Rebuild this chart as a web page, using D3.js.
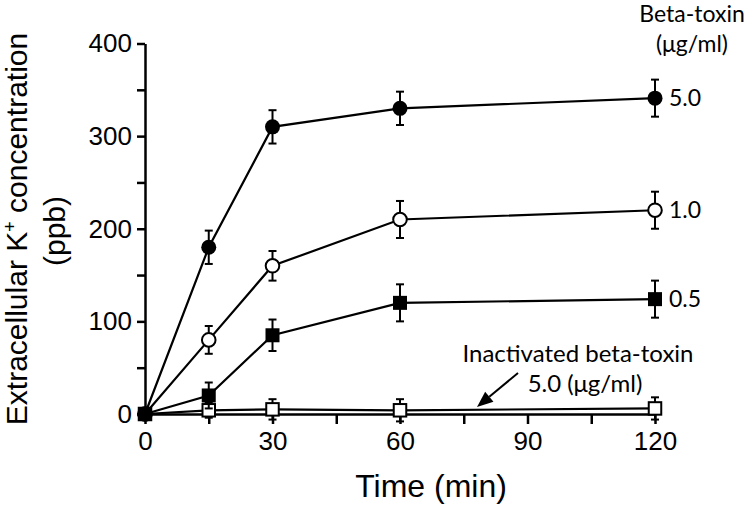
<!DOCTYPE html>
<html>
<head>
<meta charset="utf-8">
<script src="https://cdn.jsdelivr.net/npm/d3@7"></script>
<style>
  html, body { margin: 0; padding: 0; background: #fff; }
  svg { display: block; }
</style>
</head>
<body>
<script>
// ---- data ----
const times = [0, 15, 30, 60, 120];
const tox50 = [0, 180, 310, 330, 341];
const tox50Err = [0, 18, 18, 18, 20];
const tox10 = [0, 80, 160, 210, 220];
const tox10Err = [0, 15, 16, 20, 20];
const tox05 = [0, 20, 85, 120, 124];
const tox05Err = [0, 14, 17, 20, 20];
const inact = [0, 4, 5, 4, 6];
const inactErr = [0, 8, 11, 12, 12];
const seriesLabels = ["Inactivated", "0.5", "1.0", "5.0"];
const xTickValues = [0, 15, 30, 45, 60, 75, 90, 105, 120];
const yTickValues = [0, 50, 100, 150, 200, 250, 300, 350, 400];

const W = 750, H = 505;
const svg = d3.select("body").append("svg").attr("width", W).attr("height", H);

const x = d3.scaleLinear().domain([0, 120]).range([145, 655]);
const y = d3.scaleLinear().domain([0, 400]).range([414, 43.5]);

const series = [
  { name: seriesLabels[0], vals: inact, err: inactErr, shape: "square", fill: "#fff" },
  { name: seriesLabels[1], vals: tox05, err: tox05Err, shape: "square", fill: "#000" },
  { name: seriesLabels[2], vals: tox10, err: tox10Err, shape: "circle", fill: "#fff" },
  { name: seriesLabels[3], vals: tox50, err: tox50Err, shape: "circle", fill: "#000" }
];

// ---- axes ----
const axisFont = "'Liberation Sans', Arial, Helvetica, sans-serif";
const yAxis = svg.append("g").attr("transform", `translate(${x(0)},0)`)
  .call(d3.axisLeft(y).tickValues(yTickValues).tickSize(8).tickSizeOuter(0).tickPadding(5)
    .tickFormat(d => d % 100 === 0 ? d : ""));
const xAxis = svg.append("g").attr("transform", `translate(0,${y(0)})`)
  .call(d3.axisBottom(x).tickValues(xTickValues).tickSize(10).tickSizeOuter(0).tickPadding(8)
    .tickFormat(d => d % 30 === 0 ? d : ""));
[yAxis, xAxis].forEach(g => {
  g.selectAll("path.domain").attr("stroke", "#000").attr("stroke-width", 2.5);
  g.selectAll(".tick line").attr("stroke", "#000").attr("stroke-width", 2.5);
  g.selectAll(".tick text").attr("fill", "#000").style("font-family", axisFont).style("font-size", "26px");
});

// ---- lines, error bars, markers ----
const line = d3.line().x((d, i) => x(times[i])).y(d => y(d));
const cap = 4;
series.forEach(s => {
  const g = svg.append("g");
  g.append("path").attr("d", line(s.vals)).attr("fill", "none")
    .attr("stroke", "#000").attr("stroke-width", 2.2);
  s.vals.forEach((v, i) => {
    const e = s.err[i];
    if (!e) return;
    const cx = x(times[i]);
    g.append("line").attr("x1", cx).attr("x2", cx).attr("y1", y(v - e)).attr("y2", y(v + e))
      .attr("stroke", "#000").attr("stroke-width", 2);
    [v - e, v + e].forEach(w => {
      g.append("line").attr("x1", cx - cap).attr("x2", cx + cap).attr("y1", y(w)).attr("y2", y(w))
        .attr("stroke", "#000").attr("stroke-width", 2);
    });
  });
  s.vals.forEach((v, i) => {
    const cx = x(times[i]), cy = y(v);
    if (s.shape === "circle") {
      g.append("circle").attr("cx", cx).attr("cy", cy).attr("r", s.fill === "#000" ? 7.5 : 6.8)
        .attr("fill", s.fill).attr("stroke", "#000").attr("stroke-width", s.fill === "#000" ? 0 : 2);
    } else {
      const sz = s.fill === "#000" ? 14 : 12.5;
      g.append("rect").attr("x", cx - sz / 2).attr("y", cy - sz / 2).attr("width", sz).attr("height", sz)
        .attr("fill", s.fill).attr("stroke", "#000").attr("stroke-width", s.fill === "#000" ? 0 : 2);
    }
  });
});

// ---- axis titles ----
svg.append("text").attr("x", 431).attr("y", 497).attr("text-anchor", "middle")
  .style("font-family", axisFont).style("font-size", "32px").text("Time (min)");

const yt = svg.append("text").attr("transform", "translate(27,229) rotate(-90)")
  .attr("text-anchor", "middle").style("font-family", axisFont).style("font-size", "30px");
yt.append("tspan").text("Extracellular K");
yt.append("tspan").attr("dy", -11).style("font-size", "18px").text("+");
yt.append("tspan").attr("dy", 11).text(" concentration");
svg.append("text").attr("transform", "translate(65,231) rotate(-90)")
  .attr("text-anchor", "middle").style("font-family", axisFont).style("font-size", "30px").text("(ppb)");

// ---- annotations ----
const noteFont = "Lato, 'Open Sans', sans-serif";
const note = (tx, ty, str, anchor, fs) => svg.append("text").attr("x", tx).attr("y", ty)
  .attr("text-anchor", anchor || "start").style("font-family", noteFont).style("font-size", (fs || 23) + "px")
  .attr("fill", "#000").text(str);
note(692, 22, "Beta-toxin", "middle");
note(692, 52, "(\u03bcg/ml)", "middle");
series.slice(1).forEach(s => {
  note(669, y(s.vals[4]) + 8, s.name);
});
note(578, 362, "Inactivated beta-toxin", "middle", 24);
note(585, 392, "5.0 (\u03bcg/ml)", "middle", 24);

// arrow
const ax1 = 518, ay1 = 373, ax2 = 477, ay2 = 407;
const ang = Math.atan2(ay2 - ay1, ax2 - ax1);
const hl = 16, hw = 6.5;
const bx = ax2 - hl * Math.cos(ang), by = ay2 - hl * Math.sin(ang);
svg.append("line").attr("x1", ax1).attr("y1", ay1).attr("x2", bx).attr("y2", by)
  .attr("stroke", "#000").attr("stroke-width", 2);
svg.append("path").attr("d", `M${ax2},${ay2} L${bx + hw * Math.sin(ang)},${by - hw * Math.cos(ang)} L${bx - hw * Math.sin(ang)},${by + hw * Math.cos(ang)} Z`)
  .attr("fill", "#000");
</script>
</body>
</html>
